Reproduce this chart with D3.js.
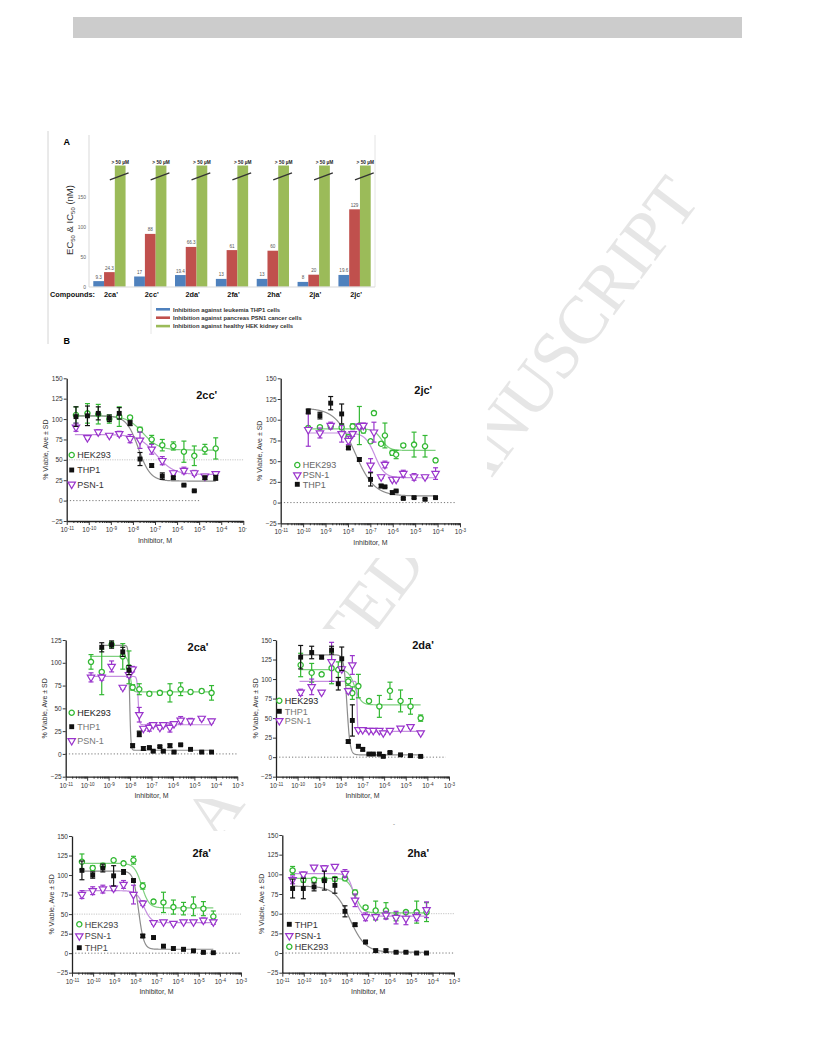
<!DOCTYPE html>
<html><head><meta charset="utf-8">
<script src="https://cdn.jsdelivr.net/npm/d3@7"></script>
<style>body{margin:0;background:#fff}svg{display:block}text{font-family:"Liberation Sans",Arial,sans-serif}</style>
</head><body><svg id="c" width="816" height="1056"></svg>
<script>
// ---------- Panel A data ----------
const compounds = ["2ca'","2cc'","2da'","2fa'","2ha'","2ja'","2jc'"];
const thp1EC50 = [9.3,17,19.4,13,13,8,19.6];
const psn1IC50 = [24.3,88,66.3,61,60,20,129];
const hekBarHeight = 202;           // broken bar, actual value > 50 µM
const hekLabel = "> 50 µM";
const barTicks = [0,50,100,150];
const legendA = ["Inhibition against leukemia THP1 cells","Inhibition against pancreas PSN1 cancer cells","Inhibition against healthy HEK kidney cells"];
const barColors = ["#4f81bd","#c0504d","#9bbb59"];

// ---------- Panel B data: [log10 M, % viable, SD] ----------
const cc_HEK293 = [[-10.58,105,10],[-10.06,107,12],[-9.57,106,12],[-9.07,100,5],[-8.62,103,12],[-8.13,102,2],[-7.68,87,3],[-7.15,75,5],[-6.67,68,7],[-6.17,67,5],[-5.69,60,13],[-5.22,55,12],[-4.74,63,6],[-4.25,64,13]];
const cc_THP1 = [[-10.58,103,12],[-10.06,104,12],[-9.57,107,8],[-9.07,101,4],[-8.62,107,7],[-8.13,95,3],[-7.68,51,8],[-7.15,43,2],[-6.67,30,4],[-6.17,28,2],[-5.69,19,1],[-5.22,12,1],[-4.74,28,2],[-4.25,28,3]];
const cc_PSN1 = [[-10.58,90,5],[-10.06,77,2],[-9.57,84,3],[-9.07,80,2],[-8.62,82,3],[-8.13,76,5],[-7.68,74,10],[-7.15,63,6],[-6.67,49,5],[-6.17,34,2],[-5.69,37,4],[-5.22,34,3],[-4.74,30,2],[-4.25,33,2]];
const cc_fits = {"HEK293":[104,62,-7.55,1.2],"THP1":[104,24,-7.75,1.6],"PSN-1":[81,32,-6.95,1.1]};

const jc_HEK293 = [[-9.77,90,2],[-9.25,91,2],[-8.77,92,2],[-8.28,91,3],[-7.98,79,3],[-7.79,92,3],[-7.49,93,23],[-7.31,87,3],[-6.99,74,2],[-6.84,108,2],[-6.52,71,2],[-6.35,81,15],[-6.02,60,3],[-5.85,58,5],[-5.53,69,2],[-5.05,70,15],[-4.56,68,13],[-4.09,51,2]];
const jc_PSN1 = [[-9.77,88,20],[-9.25,84,6],[-8.77,93,4],[-8.28,83,10],[-7.98,75,5],[-7.79,83,3],[-7.49,92,3],[-7.31,93,3],[-6.99,45,8],[-6.84,85,12],[-6.52,31,2],[-6.35,46,4],[-6.02,28,2],[-5.85,28,2],[-5.53,35,4],[-5.05,31,4],[-4.56,31,2],[-4.09,35,7]];
const jc_THP1 = [[-9.77,110,3],[-9.25,105,4],[-8.77,120,8],[-8.28,107,12],[-7.98,66,2],[-7.49,52,2],[-6.99,28,8],[-6.52,20,2],[-6.35,19,1],[-6.02,12,2],[-5.85,14,1],[-5.53,5,1],[-5.05,6,1],[-4.56,4,1],[-4.09,6,1]];
const jc_fits = {"HEK293":[89,63,-6.5,2.5],"PSN-1":[84,30,-6.8,2.0],"THP1":[114,8,-7.7,1.0]};

const ca_HEK293 = [[-9.82,101,8],[-9.32,90,25],[-8.86,120,3],[-8.34,107,14],[-8.05,95,18],[-7.88,73,3],[-7.57,71,6],[-7.10,66,2],[-6.61,67,2],[-6.14,67,10],[-5.64,71,7],[-5.18,68,2],[-4.66,69,2],[-4.20,67,8]];
const ca_THP1 = [[-9.32,117,5],[-8.86,120,4],[-8.34,112,5],[-8.05,92,5],[-7.88,9,2],[-7.57,22,3],[-7.38,6,2],[-7.10,7,1],[-6.92,3,1],[-6.61,8,1],[-6.45,3,1],[-6.14,9,2],[-5.95,2,1],[-5.64,10,1],[-5.18,5,1],[-4.66,2,1],[-4.20,2,1]];
const ca_PSN1 = [[-9.82,84,5],[-9.32,84,3],[-8.86,96,6],[-8.34,73,2],[-8.05,87,3],[-7.88,93,3],[-7.57,43,8],[-7.38,28,2],[-7.10,29,4],[-6.92,32,2],[-6.61,29,2],[-6.45,32,2],[-6.14,29,5],[-5.95,33,2],[-5.64,37,4],[-5.18,36,3],[-4.66,39,2],[-4.20,36,2]];
const ca_fits = {"HEK293":[107,68,-8.0,8],"PSN-1":[85,32,-7.62,15],"THP1":[119,4,-8.02,15]};

const da_HEK293 = [[-9.86,118,15],[-9.35,108,12],[-8.89,106,2],[-8.43,114,20],[-8.12,112,10],[-7.66,97,5],[-7.47,82,8],[-7.19,91,15],[-6.70,72,2],[-6.22,65,14],[-5.73,85,11],[-5.24,72,14],[-4.78,65,10],[-4.31,50,4]];
const da_THP1 = [[-9.86,128,15],[-9.35,134,8],[-8.89,128,2],[-8.43,137,5],[-8.12,94,8],[-7.96,126,15],[-7.66,20,2],[-7.47,47,20],[-7.19,14,2],[-6.99,10,2],[-6.70,4,1],[-6.50,4,1],[-6.22,4,2],[-6.04,1,1],[-5.73,6,1],[-5.24,3,1],[-4.78,2,1],[-4.31,1,1]];
const da_PSN1 = [[-9.86,83,4],[-9.35,90,10],[-8.89,83,2],[-8.43,122,25],[-7.96,113,3],[-7.66,85,3],[-7.47,118,12],[-7.19,35,2],[-6.99,35,2],[-6.70,34,2],[-6.50,34,2],[-6.22,34,2],[-6.04,31,2],[-5.73,34,2],[-5.24,37,2],[-4.78,39,2],[-4.31,31,2]];
const da_fits = {"HEK293":[112,67,-7.35,3],"PSN-1":[97,33,-7.25,30],"THP1":[131,3,-7.72,6]};

const fa_HEK293 = [[-10.53,117,10],[-10.02,109,3],[-9.54,112,3],[-9.03,119,2],[-8.56,115,2],[-8.09,119,5],[-7.65,86,4],[-7.14,66,2],[-6.67,65,13],[-6.20,59,9],[-5.72,57,8],[-5.25,60,12],[-4.78,57,9],[-4.31,47,7]];
const fa_PSN1 = [[-10.53,75,5],[-10.02,80,5],[-9.54,82,5],[-9.03,83,3],[-8.56,88,5],[-8.09,75,12],[-7.65,64,3],[-7.14,39,2],[-6.67,40,2],[-6.20,38,2],[-5.72,40,2],[-5.25,40,2],[-4.78,42,3],[-4.31,40,3]];
const fa_THP1 = [[-10.53,106,12],[-10.02,100,4],[-9.54,109,5],[-9.03,99,13],[-8.56,104,3],[-8.09,93,2],[-7.65,22,2],[-7.14,20,2],[-6.67,9,2],[-6.20,6,2],[-5.72,5,2],[-5.25,3,1],[-4.78,1,1],[-4.31,0.6,1]];
const fa_fits = {"HEK293":[115,58,-7.7,2.5],"PSN-1":[80,39,-7.6,2.5],"THP1":[105,5,-7.85,3.5]};

const ha_THP1 = [[-10.52,82,12],[-10.02,82,13],[-9.52,84,5],[-9.04,92,12],[-8.55,86,10],[-8.08,53,7],[-7.61,36,2],[-7.12,14,2],[-6.65,3,2],[-6.17,3,2],[-5.70,1,1],[-5.24,1,1],[-4.74,0,1],[-4.28,0,1]];
const ha_PSN1 = [[-10.52,93,5],[-10.02,100,3],[-9.52,109,2],[-9.04,108,3],[-8.55,110,2],[-8.08,101,5],[-7.61,67,8],[-7.12,46,5],[-6.65,46,3],[-6.17,48,5],[-5.70,45,8],[-5.24,44,8],[-4.74,46,5],[-4.28,55,10]];
const ha_HEK293 = [[-10.52,105,5],[-10.02,93,3],[-9.52,93,3],[-9.04,93,3],[-8.55,94,3],[-8.08,95,3],[-7.61,77,3],[-7.12,58,2],[-6.65,54,12],[-6.17,54,10],[-5.70,46,5],[-5.24,52,2],[-4.74,52,14],[-4.28,52,12]];
const ha_fits = {"THP1":[85,1,-7.85,1.2],"PSN-1":[101,47,-7.65,3],"HEK293":[95,51,-7.6,2.5]};

const xDecades = [-11,-10,-9,-8,-7,-6,-5,-4,-3];

// ---------- drawing ----------
const svg = d3.select("#c");
svg.append("rect").attr("x",73).attr("y",17).attr("width",669).attr("height",21).attr("fill","#cccccc");

// watermark (behind the pasted figure panels)
svg.append("text").attr("transform","translate(441,508) rotate(-53)")
  .attr("text-anchor","middle").attr("dy","0.33em")
  .style("font-family","'Liberation Serif','Times New Roman',serif").attr("font-size",68)
  .attr("textLength",806).attr("lengthAdjust","spacing")
  .attr("fill","#e6e6e6")
  .text("ACCEPTED MANUSCRIPT");

// white backgrounds of the figure panels (they hide the watermark)
[[48,128,340,220],[28,366,222,194],[255,368,232,190],[28,629,222,170],[250,629,222,171],[28,831,222,180],[250,831,222,180]]
  .forEach(r=>svg.append("rect").attr("x",r[0]).attr("y",r[1]).attr("width",r[2]).attr("height",r[3]).attr("fill","#fff"));

// ----- Panel A -----
const A = svg.append("g");
A.append("line").attr("x1",48).attr("x2",48).attr("y1",131).attr("y2",344).attr("stroke","#d4d4d4");
A.append("text").attr("x",66.7).attr("y",144.5).attr("text-anchor","middle").attr("font-weight","bold").attr("font-size",9).text("A");
A.append("text").attr("x",66.7).attr("y",343.5).attr("text-anchor","middle").attr("font-weight","bold").attr("font-size",9).text("B");
const yA = d3.scaleLinear().domain([0,150]).range([286.7,196.7]);
const xA = d3.scaleBand().domain(compounds).range([89,375]).paddingInner(0.21).paddingOuter(0.105);
const subA = d3.scaleBand().domain([0,1,2]).range([0,xA.bandwidth()]);
A.append("line").attr("x1",89).attr("x2",89).attr("y1",135).attr("y2",287).attr("stroke","#d9d9d9");
A.append("line").attr("x1",375).attr("x2",375).attr("y1",135).attr("y2",287).attr("stroke","#e4e4e4");
A.selectAll(".ytA").data(barTicks).join("text").attr("x",86).attr("y",d=>yA(d)+1.8)
  .attr("text-anchor","end").attr("font-size",5).attr("fill","#666").text(d=>d);
A.append("text").attr("transform","translate(72.5,220) rotate(-90)").attr("text-anchor","middle")
  .attr("font-size",9.5).attr("fill","#333")
  .call(t=>{t.append("tspan").text("EC");t.append("tspan").attr("font-size",6).attr("dy",2).text("50");
           t.append("tspan").attr("dy",-2).text(" & IC");t.append("tspan").attr("font-size",6).attr("dy",2).text("50");
           t.append("tspan").attr("dy",-2).text(" (nM)");});
const groups = A.selectAll(".grp").data(compounds).join("g").attr("transform",d=>`translate(${xA(d)},0)`);
const bw = subA.bandwidth();
groups.append("rect").attr("x",subA(0)).attr("width",bw).attr("y",(d,i)=>yA(thp1EC50[i])).attr("height",(d,i)=>yA(0)-yA(thp1EC50[i])).attr("fill",barColors[0]);
groups.append("rect").attr("x",subA(1)).attr("width",bw).attr("y",(d,i)=>yA(psn1IC50[i])).attr("height",(d,i)=>yA(0)-yA(psn1IC50[i])).attr("fill",barColors[1]);
groups.append("rect").attr("x",subA(2)).attr("width",bw).attr("y",yA(hekBarHeight)).attr("height",yA(0)-yA(hekBarHeight)).attr("fill",barColors[2]);
groups.append("text").attr("x",subA(0)+bw/2).attr("y",(d,i)=>yA(thp1EC50[i])-2.5).attr("text-anchor","middle").attr("font-size",4.6).attr("fill","#555").text((d,i)=>thp1EC50[i]);
groups.append("text").attr("x",subA(1)+bw/2).attr("y",(d,i)=>yA(psn1IC50[i])-2.5).attr("text-anchor","middle").attr("font-size",4.6).attr("fill","#555").text((d,i)=>psn1IC50[i]);
groups.append("text").attr("x",subA(2)+bw/2).attr("y",yA(hekBarHeight)-1.2).attr("text-anchor","middle").attr("font-size",4.8).attr("font-weight","bold").attr("fill","#222").text(hekLabel);
groups.append("line").attr("x1",subA(2)-5).attr("x2",subA(2)+bw+3).attr("y1",yA(184)+3.5).attr("y2",yA(184)-3.5).attr("stroke","#333").attr("stroke-width",1.3);
A.append("line").attr("x1",89).attr("x2",375).attr("y1",287).attr("y2",287).attr("stroke","#d9d9d9").attr("stroke-width",1.2);
A.selectAll(".cat").data(compounds).join("text").attr("x",d=>xA(d)+xA.bandwidth()/2+1.5).attr("y",296.8)
  .attr("text-anchor","middle").attr("font-size",7.3).attr("font-weight","bold").attr("fill","#111").text(d=>d);
A.append("text").attr("x",50).attr("y",296.8).attr("font-size",7.3).attr("font-weight","bold").attr("fill","#111").text("Compounds:");
A.append("line").attr("x1",151).attr("x2",151).attr("y1",297).attr("y2",334).attr("stroke","#e6e6e6");
const legA = A.selectAll(".lgA").data(legendA).join("g").attr("transform",(d,i)=>`translate(156,${309.3+i*8.4})`);
legA.append("line").attr("x1",0).attr("x2",14).attr("stroke",(d,i)=>barColors[i]).attr("stroke-width",2.6);
legA.append("text").attr("x",17).attr("y",2.2).attr("font-size",5.9).attr("font-weight","bold").attr("fill","#333").text(d=>d);

// ----- Panel B -----
const STY = {
  "HEK293":{color:"#33b833",curve:"#7fd07f"},
  "PSN-1":{color:"#9a35cc",curve:"#c58fe0"},
  "THP1":{color:"#111111",curve:"#8c8c8c"}
};
function marker(sel,name){
  if(name==="HEK293") sel.append("circle").attr("r",2.6).attr("fill","#fff").attr("stroke",STY[name].color).attr("stroke-width",1.3);
  else if(name==="PSN-1") sel.append("path").attr("d",d3.symbol().type(d3.symbolTriangle).size(24)()).attr("transform","rotate(180)").attr("fill","#fff").attr("stroke",STY[name].color).attr("stroke-width",1.2);
  else sel.append("path").attr("d",d3.symbol().type(d3.symbolSquare).size(24)()).attr("fill","#111");
}
function drawPanel(c){
  let g = svg.append("g");
  if(c.clip){
    svg.append("clipPath").attr("id",c.id+"clip").append("rect").attr("x",0).attr("y",0).attr("width",c.clip).attr("height",1056);
    g.attr("clip-path",`url(#${c.id}clip)`);
  }
  const x = d3.scaleLinear().domain([-11,-3]).range([c.x0,c.x1]);
  const y = d3.scaleLinear().domain([-25,c.ymax]).range([c.yb,c.yt]);
  if(c.ref50) g.append("line").attr("x1",x(-11)).attr("x2",x(-3)).attr("y1",y(50)).attr("y2",y(50)).attr("stroke","#c4c4c4").attr("stroke-dasharray","1.2,1.2");
  g.append("line").attr("x1",x(-11)).attr("x2",x(c.zeroEnd)).attr("y1",y(0)).attr("y2",y(0)).attr("stroke","#777").attr("stroke-dasharray","1.2,2");
  const ya = g.append("g").attr("transform",`translate(${c.x0},0)`)
    .call(d3.axisLeft(y).tickValues(d3.range(-25,c.ymax+1,25)).tickSize(3).tickSizeOuter(0).tickPadding(1));
  const xa = g.append("g").attr("transform",`translate(0,${c.yb})`)
    .call(d3.axisBottom(x).tickValues(xDecades).tickSize(4).tickSizeOuter(0).tickPadding(2.5).tickFormat(d=>d));
  xa.selectAll(".tick text").each(function(d){const t=d3.select(this);t.text("10");t.append("tspan").attr("dy","-0.5em").attr("font-size","4.6px").text(d);});
  const minors=[]; xDecades.slice(0,-1).forEach(m=>{for(let k=2;k<10;k++) minors.push(m+Math.log10(k));});
  const xm = g.append("g").attr("transform",`translate(0,${c.yb})`)
    .call(d3.axisBottom(x).tickValues(minors).tickSize(2).tickSizeOuter(0).tickFormat(""));
  xm.select(".domain").remove();
  [ya,xa,xm].forEach(a=>{
    a.attr("font-family",null).attr("font-size",null);
    a.select(".domain").attr("stroke","#222").attr("stroke-width",1.3);
    a.selectAll(".tick line").attr("stroke","#222").attr("stroke-width",0.9);
    a.selectAll(".tick text").attr("font-size",6.5).attr("fill","#333");
  });
  g.append("text").attr("x",(c.x0+c.x1)/2).attr("y",c.yb+21.5).attr("text-anchor","middle").attr("font-size",7).attr("fill","#333").text("Inhibitor, M");
  g.append("text").attr("transform",`translate(${c.x0-18.5},${(c.yt+c.yb)/2}) rotate(-90)`).attr("text-anchor","middle").attr("font-size",7).attr("fill","#333").text("% Viable, Ave ± SD");
  g.append("text").attr("x",c.tx).attr("y",c.ty+4).attr("text-anchor","middle").attr("font-size",11).attr("font-weight","bold").attr("fill","#111").text(c.title);
  const line = d3.line().x(d=>x(d[0])).y(d=>y(d[1]));
  ["HEK293","PSN-1","THP1"].forEach(name=>{
    const [top,bot,ec,h] = c.fits[name];
    const ext = d3.extent(c.series[name],d=>d[0]);
    const xs = d3.range(ext[0]-0.05, ext[1]+0.001, 0.005);
    const pts = xs.map(v=>[v, bot+(top-bot)/(1+Math.pow(10,(v-ec)*h))]);
    g.append("path").attr("d",line(pts)).attr("fill","none").attr("stroke",STY[name].curve).attr("stroke-width",1.2);
  });
  ["HEK293","PSN-1","THP1"].forEach(name=>{
    const col = STY[name].color;
    const s = g.append("g");
    const eb = s.selectAll(".eb").data(c.series[name]).join("g");
    eb.append("line").attr("x1",d=>x(d[0])).attr("x2",d=>x(d[0])).attr("y1",d=>y(d[1]-d[2])).attr("y2",d=>y(d[1]+d[2])).attr("stroke",col).attr("stroke-width",1.2);
    eb.append("line").attr("x1",d=>x(d[0])-2.5).attr("x2",d=>x(d[0])+2.5).attr("y1",d=>y(d[1]+d[2])).attr("y2",d=>y(d[1]+d[2])).attr("stroke",col).attr("stroke-width",1.2);
    eb.append("line").attr("x1",d=>x(d[0])-2.5).attr("x2",d=>x(d[0])+2.5).attr("y1",d=>y(d[1]-d[2])).attr("y2",d=>y(d[1]-d[2])).attr("stroke",col).attr("stroke-width",1.2);
    s.selectAll(".pt").data(c.series[name]).join("g").attr("transform",d=>`translate(${x(d[0])},${y(d[1])})`).each(function(){marker(d3.select(this),name);});
  });
  c.legend.forEach((name,i)=>{
    const lg = g.append("g").attr("transform",`translate(${c.lx},${c.ly[i]})`);
    marker(lg,name);
    lg.append("text").attr("x",5.5).attr("y",3.2).attr("font-size",9).attr("fill",c.lcol[i]).text(name);
  });
}

drawPanel({id:"p1",title:"2cc'",x0:66.7,x1:243.3,yt:378.3,yb:521,ymax:150,tx:206.7,ty:395,ref50:true,zeroEnd:-5.0,clip:247,
  series:{"HEK293":cc_HEK293,"PSN-1":cc_PSN1,"THP1":cc_THP1},fits:cc_fits,
  legend:["HEK293","THP1","PSN-1"],lx:71.7,ly:[455,470,484.3],lcol:["#333","#333","#333"]});
drawPanel({id:"p2",title:"2jc'",x0:280.7,x1:460,yt:378.3,yb:523.3,ymax:150,tx:423.3,ty:390,ref50:false,zeroEnd:-3.15,
  series:{"HEK293":jc_HEK293,"PSN-1":jc_PSN1,"THP1":jc_THP1},fits:jc_fits,
  legend:["HEK293","PSN-1","THP1"],lx:297.3,ly:[465,475,484.3],lcol:["#666","#666","#666"]});
drawPanel({id:"p3",title:"2ca'",x0:65.7,x1:237.3,yt:640,yb:776.7,ymax:125,tx:198,ty:646.7,ref50:false,zeroEnd:-3,
  series:{"HEK293":ca_HEK293,"PSN-1":ca_PSN1,"THP1":ca_THP1},fits:ca_fits,
  legend:["HEK293","THP1","PSN-1"],lx:71.7,ly:[712.7,726.7,740.7],lcol:["#222","#777","#777"]});
drawPanel({id:"p4",title:"2da'",x0:276,x1:449,yt:640,yb:776.7,ymax:150,tx:423,ty:645,ref50:false,zeroEnd:-3.15,
  series:{"HEK293":da_HEK293,"PSN-1":da_PSN1,"THP1":da_THP1},fits:da_fits,
  legend:["HEK293","THP1","PSN-1"],lx:279.3,ly:[700.7,711.3,720.7],lcol:["#222","#777","#777"]});
drawPanel({id:"p5",title:"2fa'",x0:72,x1:241,yt:836,yb:972.7,ymax:150,tx:201.7,ty:853.3,ref50:true,zeroEnd:-3,
  series:{"HEK293":fa_HEK293,"PSN-1":fa_PSN1,"THP1":fa_THP1},fits:fa_fits,
  legend:["HEK293","PSN-1","THP1"],lx:79.3,ly:[924.3,936,947.7],lcol:["#444","#444","#444"]});
drawPanel({id:"p6",title:"2ha'",x0:282.3,x1:454,yt:835,yb:972.7,ymax:150,tx:418.3,ty:853.3,ref50:true,zeroEnd:-3,
  series:{"HEK293":ha_HEK293,"PSN-1":ha_PSN1,"THP1":ha_THP1},fits:ha_fits,
  legend:["THP1","PSN-1","HEK293"],lx:289.3,ly:[924.3,935.7,946.7],lcol:["#333","#333","#333"]});
svg.append("text").attr("x",393).attr("y",826).attr("font-size",6).attr("fill","#555").text("-");
</script></body></html>
